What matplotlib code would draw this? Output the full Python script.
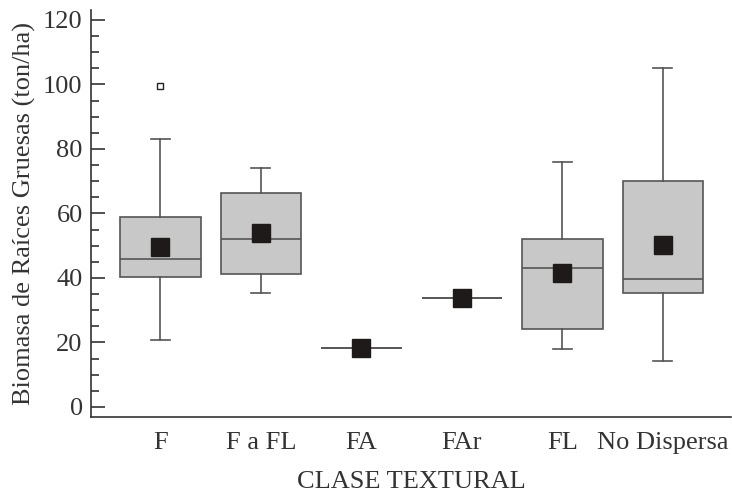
import numpy as np
import matplotlib
matplotlib.use("Agg")
import matplotlib.pyplot as plt

clases = ["F", "F a FL", "FA", "FAr", "FL", "No Dispersa"]
whisker_low = [20.8, 35.4, 18.4, 33.9, 18.0, 14.3]
q1 = [40.4, 41.2, 18.4, 33.9, 24.1, 35.4]
medianas = [46.0, 52.2, 18.4, 33.9, 43.2, 39.6]
q3 = [58.9, 66.4, 18.4, 33.9, 52.1, 70.1]
whisker_high = [83.1, 74.2, 18.4, 33.9, 76.1, 105.2]
medias = [49.6, 54.0, 18.2, 33.8, 41.4, 50.3]
atipicos = [[99.4], [], [], [], [], []]

plt.rcParams['font.family'] = ['Liberation Serif', 'DejaVu Serif']

line_col = '#555555'
txt_col = '#333333'
fig = plt.figure(figsize=(7.32, 4.95), dpi=100)
ax = fig.add_axes([0.1243, 0.1576, 0.8747, 0.8222])

stats = []
for i, c in enumerate(clases):
    stats.append(dict(label=c, whislo=whisker_low[i], q1=q1[i], med=medianas[i],
                      q3=q3[i], whishi=whisker_high[i], fliers=atipicos[i]))

positions = np.arange(1, len(clases) + 1)
ax.bxp(stats, positions=positions, widths=0.8, patch_artist=True,
       capwidths=0.19, showfliers=True,
       boxprops=dict(facecolor='#c8c8c8', edgecolor=line_col, linewidth=1.2),
       medianprops=dict(color=line_col, linewidth=1.2),
       whiskerprops=dict(color=line_col, linewidth=1.2),
       capprops=dict(color=line_col, linewidth=1.2),
       flierprops=dict(marker='s', markersize=4, markerfacecolor='white',
                       markeredgecolor='#222222', markeredgewidth=1.0))

ax.plot(positions, medias, 's', color='#1e1a1a', markersize=12.5, zorder=5)

ax.set_xlim(0.31, 6.68)
ax.set_ylim(-3.1, 123.1)
ax.set_yticks(np.arange(0, 121, 20))
ax.set_yticks(np.arange(0, 121, 5), minor=True)
ax.set_xticks(positions)
ax.set_xticklabels(clases)

for s in ['top', 'right']:
    ax.spines[s].set_visible(False)
for s in ['left', 'bottom']:
    ax.spines[s].set_color(txt_col)
    ax.spines[s].set_linewidth(1.2)

ax.tick_params(axis='y', which='major', direction='in', length=10, width=1.2,
               color=txt_col, labelsize=19, labelcolor=txt_col, pad=6)
ax.tick_params(axis='y', which='minor', direction='in', length=6, width=1.2,
               color=txt_col)
ax.tick_params(axis='x', length=0, labelsize=19, labelcolor=txt_col, pad=11)

ax.set_ylabel('Biomasa de Raíces Gruesas (ton/ha)', fontsize=19, color=txt_col, labelpad=5)
ax.set_xlabel('CLASE TEXTURAL', fontsize=19, color=txt_col, labelpad=12)

fig.savefig('out.png', dpi=100)
